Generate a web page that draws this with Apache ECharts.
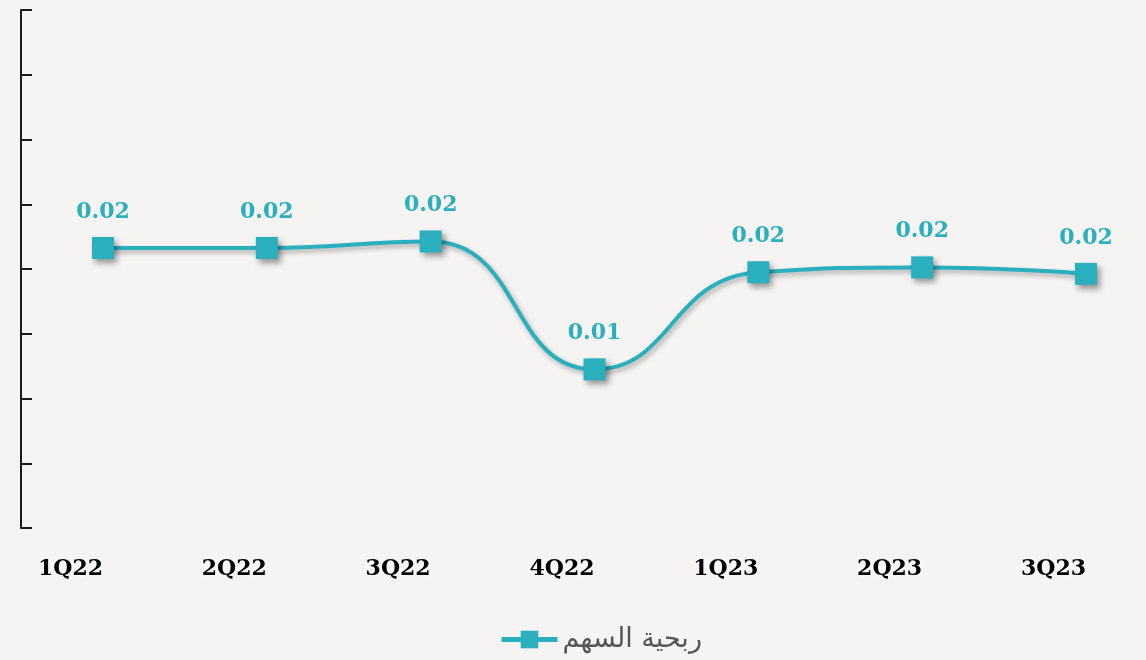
<!DOCTYPE html>
<html>
<head>
<meta charset="utf-8">
<script src="https://cdn.jsdelivr.net/npm/echarts@6/dist/echarts.min.js"></script>
<style>
  html, body { margin: 0; padding: 0; background: #f5f4f2; }
  #chart { width: 1146px; height: 660px; }
</style>
</head>
<body>
<div id="chart"></div>
<script>
// quarters and earnings per share
const quarters = ['1Q22', '2Q22', '3Q22', '4Q22', '1Q23', '2Q23', '3Q23'];
const eps = [0.0173, 0.0173, 0.0177, 0.0098, 0.0158, 0.0161, 0.0157];
const seriesName = 'ربحية السهم';

const TEAL = '#2aafbf';

const chart = echarts.init(document.getElementById('chart'), null, { renderer: 'canvas' });

chart.setOption({
  backgroundColor: '#f5f4f2',
  grid: { left: 103, right: 60, top: 10, bottom: 132 },
  xAxis: {
    type: 'category',
    data: quarters,
    boundaryGap: false,
    axisLine: { show: false },
    axisTick: { show: false },
    axisLabel: {
      align: 'right',
      margin: 30,
      color: '#000',
      fontFamily: 'DejaVu Serif',
      fontWeight: 'bold',
      fontSize: 22,
      textShadowColor: '#ffffff',
      textShadowBlur: 6
    }
  },
  yAxis: {
    type: 'value',
    min: 0,
    max: 0.032,
    interval: 0.004,
    offset: 82,
    splitLine: { show: false },
    axisLabel: { show: false },
    axisLine: { show: true, lineStyle: { color: '#1a1a1a', width: 2 } },
    axisTick: { show: true, inside: true, length: 11, lineStyle: { color: '#1a1a1a', width: 2 } }
  },
  legend: {
    bottom: 2,
    left: 494,
    itemWidth: 56,
    itemHeight: 22,
    itemGap: 10,
    lineStyle: { width: 5 },
    textStyle: { fontFamily: 'DejaVu Sans', fontSize: 27, color: '#555' },
    data: [seriesName]
  },
  series: [
    {
      name: seriesName,
      type: 'line',
      data: eps,
      smooth: 0.5,
      symbol: 'rect',
      symbolSize: 22,
      color: TEAL,
      lineStyle: {
        width: 4,
        color: TEAL,
        shadowColor: 'rgba(0,0,0,0.3)',
        shadowBlur: 5,
        shadowOffsetX: 2,
        shadowOffsetY: 3
      },
      itemStyle: {
        color: TEAL,
        shadowColor: 'rgba(0,0,0,0.4)',
        shadowBlur: 6,
        shadowOffsetX: 3,
        shadowOffsetY: 4
      },
      label: {
        show: true,
        position: 'top',
        distance: 14,
        color: TEAL,
        fontFamily: 'DejaVu Serif',
        fontWeight: 'bold',
        fontSize: 22,
        formatter: p => p.value.toFixed(2)
      }
    }
  ]
});
</script>
</body>
</html>
